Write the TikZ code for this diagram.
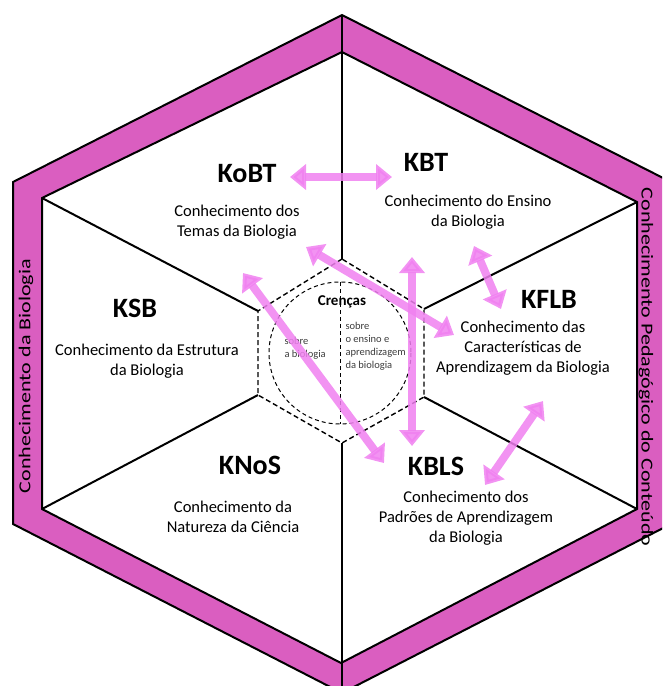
\documentclass[tikz,border=0pt]{standalone}
\usepackage{fontspec}
\setmainfont{Carlito}
\usepackage{tikz}
\usetikzlibrary{arrows.meta,positioning}
\definecolor{bandpink}{RGB}{218,94,192}
\definecolor{arrowpink}{RGB}{240,128,240}
\definecolor{txtgray}{RGB}{60,60,60}
\tikzset{
  kname/.style={font=\bfseries\fontsize{28}{30}\selectfont},
  kdesc/.style={align=center, font=\fontsize{16.5}{20}\selectfont},
  crtext/.style={align=left, font=\fontsize{10.5}{13}\selectfont, txtgray},
  sidetext/.style={font=\fontsize{16.7}{20}\selectfont},
  bigarrow/.style={arrowpink, opacity=0.85, line width=8pt,
    {Triangle[width=25pt,length=16pt]}-{Triangle[width=25pt,length=16pt]}},
}

\begin{document}
\begin{tikzpicture}[x=1pt, y=-1pt]
\useasboundingbox (0,0) rectangle (662,686);
\clip (0,0) rectangle (662,686);
% Outer band
\fill[bandpink, even odd rule] (342,15) -- (13,182) -- (13,524) -- (342,693) -- (671,524) -- (671,182) -- cycle
  (342,52) -- (42,198) -- (42,509) -- (341,663) -- (637,509) -- (637,202) -- cycle;
\draw[line width=2pt] (342,15) -- (13,182) -- (13,524) -- (342,693) -- (671,524) -- (671,182) -- cycle;
\draw[line width=2pt] (342,52) -- (42,198) -- (42,509) -- (341,663) -- (637,509) -- (637,202) -- cycle;
% Sector lines
\draw[line width=2pt] (342,15) -- (342,259);
\draw[line width=2pt] (342,443) -- (342,693);
\draw[line width=2pt] (42,198) -- (258,311);
\draw[line width=2pt] (42,509) -- (258,395);
\draw[line width=2pt] (637,202) -- (424,309);
\draw[line width=2pt] (637,509) -- (424,397);
% Beliefs in the middle
\draw[line width=1.4pt, dash pattern=on 5pt off 3pt] (342,259) -- (258,311) -- (258,395) -- (342,443) -- (424,397) -- (424,309) -- cycle;
\draw[line width=1pt, dash pattern=on 4pt off 3pt] (340,353) circle (71);
\draw[line width=1pt, dash pattern=on 4pt off 3pt] (340,282) -- (340,424);
\node[font=\bfseries\fontsize{15}{17}\selectfont] (crencas) at (342,302) {Crenças};
\node[crtext, anchor=west] (sobrebio) at (281,348) {sobre\\a biologia};
\node[crtext, anchor=west] (sobreens) at (342,346) {sobre\\o ensino e\\aprendizagem\\da biologia};
% Sectors
\node[kname] (kobt) at (247,174) {KoBT};
\node[kdesc] (kobtd) at (237,222) {Conhecimento dos\\Temas da Biologia};
\node[kname] (kbt) at (426,162) {KBT};
\node[kdesc] (kbtd) at (468,212) {Conhecimento do Ensino\\da Biologia};
\node[kname] (ksb) at (135,308) {KSB};
\node[kdesc] (ksbd) at (147,361) {Conhecimento da Estrutura\\da Biologia};
\node[kname] (kflb) at (549,299) {KFLB};
\node[kdesc] (kflbd) at (523,348) {Conhecimento das\\Características de\\Aprendizagem da Biologia};
\node[kname] (knos) at (250,465) {KNoS};
\node[kdesc] (knosd) at (233,517) {Conhecimento da\\Natureza da Ciência};
\node[kname] (kbls) at (436,466) {KBLS};
\node[kdesc] (kblsd) at (466,518) {Conhecimento dos\\Padrões de Aprendizagem\\da Biologia};
% Band labels
\node[sidetext, rotate=90] (cb) at (26,376) {\scalebox{1.32}[1]{Conhecimento da Biologia}};
\node[sidetext, rotate=-90] (cpc) at (646,367) {\scalebox{1.32}[1]{Conhecimento Pedagógico do Conteúdo}};
% Arrows
\coordinate (toKoBT) at (290,177);
\coordinate (toKBT) at (392,177);
\coordinate (toTemas) at (306,247);
\coordinate (toCarac) at (454,335);
\coordinate (toKSB) at (243,273);
\coordinate (toKBLS) at (384,463);
\coordinate (upEnsino) at (412,257);
\coordinate (downPadroes) at (412,446);
\coordinate (fromEnsino) at (474,246);
\coordinate (toKFLB) at (501,309);
\coordinate (fromCarac) at (543,401);
\coordinate (toPadroes) at (485,485);
\draw[bigarrow] (toKoBT) -- (toKBT);
\draw[bigarrow] (toTemas) -- (toCarac);
\draw[bigarrow] (toKSB) -- (toKBLS);
\draw[bigarrow] (upEnsino) -- (downPadroes);
\draw[bigarrow] (fromEnsino) -- (toKFLB);
\draw[bigarrow] (fromCarac) -- (toPadroes);
\end{tikzpicture}
\end{document}
